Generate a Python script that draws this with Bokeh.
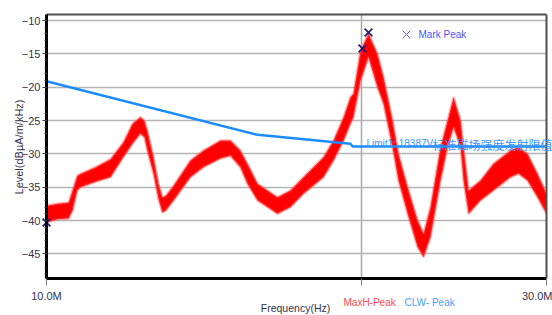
import math
from bokeh.plotting import figure
from bokeh.models import FixedTicker, Label, Range1d, LinearAxis, LogAxis, Grid
from bokeh.embed import file_html
from bokeh.resources import INLINE

# ---------------- data ----------------
freq_mhz = [10.00, 10.25, 10.50, 10.59, 10.70, 10.78, 11.14, 11.51, 11.84, 12.08,
            12.29, 12.40, 12.48, 12.65, 12.79, 12.90, 13.00, 13.22, 13.72, 14.12,
            14.66, 14.98, 15.31, 15.55, 15.90, 16.61, 17.09, 17.59, 18.38, 18.79,
            19.21, 19.50, 19.63, 19.94, 20.29, 20.69, 20.97, 21.39, 21.67, 22.11,
            22.60, 22.90, 23.25, 23.77, 24.14, 24.46, 24.84, 25.00, 25.28, 25.95,
            26.70, 27.72, 28.21, 28.77, 29.41, 30.00]
maxh_low = [-40.3, -39.8, -39.7, -38.5, -35.5, -35.0, -34.2, -33.5, -30.5, -28.5,
            -27.0, -27.5, -29.5, -33.0, -36.8, -38.8, -38.5, -37.0, -33.5, -32.0,
            -30.7, -30.3, -32.0, -34.5, -37.0, -39.0, -38.0, -36.0, -33.5, -31.0,
            -28.0, -25.5, -24.5, -19.0, -15.5, -20.0, -22.5, -29.0, -34.0, -39.0,
            -44.0, -45.5, -42.5, -34.0, -29.0, -26.0, -29.0, -34.0, -39.0, -37.0,
            -35.5, -33.5, -33.0, -34.0, -36.5, -39.0]
maxh_high = [-37.8, -37.5, -37.3, -35.5, -33.3, -33.0, -32.0, -30.8, -28.3, -25.5,
             -24.5, -25.0, -26.5, -30.5, -34.5, -36.5, -36.3, -34.8, -31.0, -29.5,
             -28.0, -28.0, -29.5, -31.5, -34.5, -36.5, -35.5, -33.5, -30.5, -28.0,
             -24.5, -21.5, -21.0, -14.5, -12.0, -15.0, -18.5, -25.0, -30.0, -35.0,
             -40.0, -42.0, -38.0, -29.0, -25.0, -21.5, -25.0, -29.0, -35.5, -34.0,
             -31.5, -29.5, -29.0, -30.0, -33.0, -36.0]

limit_freq = [10.0, 15.9, 19.5, 19.6, 30.0]
limit_db = [-19.1, -27.15, -28.5, -28.9, -28.9]

peak_freq = [20.29, 20.02, 10.0]
peak_db = [-11.8, -14.2, -40.3]

y_ticks = [-45, -40, -35, -30, -25, -20, -15, -10]
y_minor = list(range(-48, -9))
x_grid_ticks = [20]
x_tick_labels = {10: "10.0M", 20: "", 30: "30.0M"}

limit_label_latin = "Limit1: 18387V"
limit_label_cjk = "标准磁场强度发射限值"

# ---------------- layout (page pixels) ----------------
W, H = 552, 315
X0, X1 = 10.0, 30.0           # plotted frequency span
PX0, PX1 = 46, 546            # where X0 / X1 sit on the page
PY_M10, PX_PER_DB = 20, 20 / 3  # y of -10 dB, pixels per dB

def f_at(px):
    return X0 * (X1 / X0) ** ((px - PX0) / (PX1 - PX0))

def db_at(py):
    return -10 - (py - PY_M10) / PX_PER_DB

Y0, Y1 = db_at(278), db_at(14)   # bottom / top of the plotting area

LAT = "Liberation Sans"
CJK = "Noto Sans CJK SC"

p = figure(width=W, height=H, output_backend="svg", toolbar_location=None,
           x_axis_type="log",
           x_range=Range1d(f_at(0), f_at(W)), y_range=Range1d(db_at(H), db_at(0)),
           min_border=0, min_border_left=0, min_border_right=0,
           min_border_top=0, min_border_bottom=0)
p.title.visible = False
p.background_fill_color = "white"
p.border_fill_color = "white"
p.outline_line_color = None

# ---- grid (limited to the plotting area) ----
has_cross = "cross_bounds" in Grid.properties()
p.xgrid.ticker = FixedTicker(ticks=x_grid_ticks)
p.ygrid.ticker = FixedTicker(ticks=y_ticks)
if has_cross:
    p.xgrid.cross_bounds = (Y0, Y1)
    p.ygrid.cross_bounds = (X0, X1)
    for g, c in ((p.xgrid, "#a8a8a8"), (p.ygrid, "#b4b4b4")):
        g.grid_line_color = c
        g.grid_line_width = 1.5
else:
    p.xgrid.visible = False
    p.ygrid.visible = False
    p.segment(x0=[X0] * len(y_ticks), y0=y_ticks, x1=[X1] * len(y_ticks), y1=y_ticks,
              line_color="#b4b4b4", line_width=1.5)
    p.segment(x0=x_grid_ticks, y0=[Y0], x1=x_grid_ticks, y1=[Y1],
              line_color="#a8a8a8", line_width=1.5)

# ---- x axis ----
xa = p.xaxis[0]
xa.fixed_location = Y0
xa.bounds = (X0, X1)
xa.ticker = FixedTicker(ticks=list(x_tick_labels.keys()))
xa.major_label_overrides = x_tick_labels
xa.axis_line_color = "black"
xa.axis_line_width = 3
xa.major_tick_line_color = "#808080"
xa.major_tick_out = 7
xa.major_tick_in = 0
xa.minor_tick_line_color = None
xa.major_label_standoff = 4
xa.major_label_text_font = LAT
xa.major_label_text_font_size = "11px"
xa.major_label_text_color = "#33334d"

# ---- y axis ----
ya = p.yaxis[0]
ya.fixed_location = X0
ya.bounds = (Y0, Y1)
ya.ticker = FixedTicker(ticks=y_ticks, minor_ticks=y_minor)
ya.axis_line_color = "black"
ya.axis_line_width = 3
ya.major_tick_out = 4
ya.major_tick_in = 0
ya.minor_tick_out = 2
ya.minor_tick_in = 0
ya.major_tick_line_color = "#404040"
ya.minor_tick_line_color = "#404040"
ya.major_label_standoff = 2
ya.major_label_text_font = LAT
ya.major_label_text_font_size = "11px"
ya.major_label_text_color = "#33334d"

# ---- top and right borders ----
top = LogAxis(fixed_location=Y1, bounds=(X0, X1), ticker=FixedTicker(ticks=[]),
              axis_line_color="#505050", axis_line_width=2,
              major_tick_line_color=None, minor_tick_line_color=None,
              major_label_text_font_size="0px")
p.add_layout(top, "above")
right = LinearAxis(fixed_location=X1, bounds=(Y0, Y1), ticker=FixedTicker(ticks=[]),
                   axis_line_color="#505050", axis_line_width=2,
                   major_tick_line_color=None, minor_tick_line_color=None,
                   major_label_text_font_size="0px")
p.add_layout(right, "right")

# ---- MaxH-Peak trace (envelope of the noisy trace) ----
p.varea(x=freq_mhz, y1=maxh_low, y2=maxh_high, fill_color="#ff0000")
p.line(freq_mhz, maxh_low, line_color="#ff5050", line_width=2.5, line_alpha=0.45)
p.line(freq_mhz, maxh_high, line_color="#ff5050", line_width=2.5, line_alpha=0.45)

# ---- limit line ----
p.line(limit_freq, limit_db, line_color="#1a8cff", line_width=2.5)

# ---- peak markers ----
p.scatter(peak_freq, peak_db, marker="x", size=11, line_color="#1a1a80", line_width=1.6)

# ---- Mark Peak legend ----
p.scatter([f_at(406)], [db_at(34)], marker="x", size=11,
          line_color="#5c5cff", line_width=1)
p.add_layout(Label(x=f_at(418), y=db_at(34), text="Mark Peak",
                   text_font=LAT, text_font_size="10px", text_color="#5252ff",
                   text_baseline="middle"))

# ---- limit label ----
p.add_layout(Label(x=f_at(366), y=db_at(143), text=limit_label_latin,
                   text_font=LAT, text_font_size="10px", text_color="#3d94ff",
                   text_baseline="alphabetic"))
p.add_layout(Label(x=f_at(432), y=db_at(144), text=limit_label_cjk,
                   text_font=CJK, text_font_size="12px", text_color="#3d94ff",
                   text_baseline="alphabetic"))

# ---- axis titles and bottom legend ----
p.add_layout(Label(x=f_at(18), y=db_at(146.5), text="Level(dBµA/m/kHz)",
                   angle=math.pi / 2, text_font=LAT, text_font_size="11px",
                   text_color="#33334d", text_align="center", text_baseline="middle"))
p.add_layout(Label(x=f_at(295), y=db_at(301), text="Frequency(Hz)",
                   text_font=LAT, text_font_size="10.5px", text_color="#33334d",
                   text_align="center", text_baseline="top"))
p.add_layout(Label(x=f_at(343), y=db_at(302), text="MaxH-Peak",
                   text_font=LAT, text_font_size="10px", text_color="#ff4a4a",
                   text_baseline="middle"))
p.add_layout(Label(x=f_at(404), y=db_at(302), text="CLW- Peak",
                   text_font=LAT, text_font_size="10px", text_color="#4aa0ff",
                   text_baseline="middle"))

open("out.html", "w").write(file_html(p, INLINE))
